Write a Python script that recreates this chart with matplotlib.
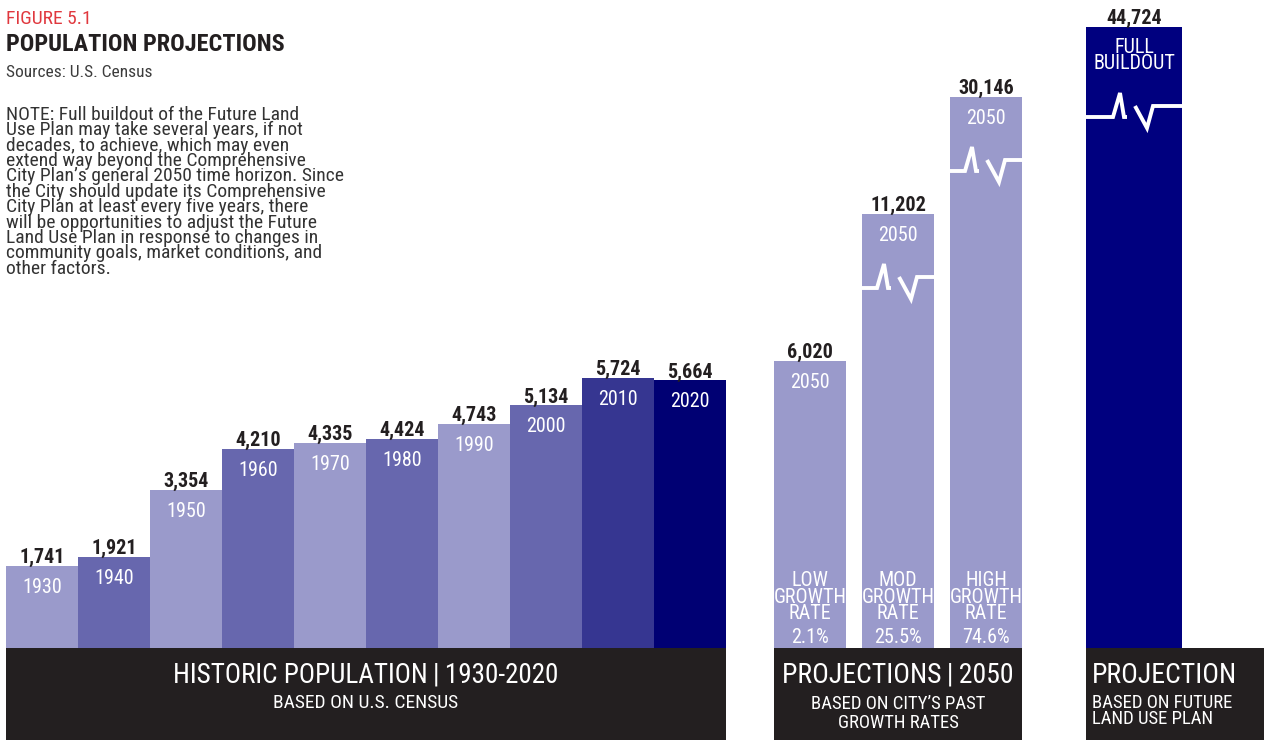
import numpy as np
import matplotlib
matplotlib.use("Agg")
import matplotlib.pyplot as plt
from matplotlib.patches import Rectangle

# ---------------- data ----------------
hist_years = ["1930", "1940", "1950", "1960", "1970", "1980", "1990", "2000", "2010", "2020"]
hist_values = [1741, 1921, 3354, 4210, 4335, 4424, 4743, 5134, 5724, 5664]

proj_year = "2050"
proj_names = ["LOW\nGROWTH\nRATE", "MOD\nGROWTH\nRATE", "HIGH\nGROWTH\nRATE"]
proj_rates = ["2.1%", "25.5%", "74.6%"]
proj_values = [6020, 11202, 30146]

buildout_label = "FULL\nBUILDOUT"
buildout_value = 44724

note_text = (
    "NOTE: Full buildout of the Future Land\n"
    "Use Plan may take several years, if not\n"
    "decades, to achieve, which may even\n"
    "extend way beyond the Comprehensive\n"
    "City Plan\u2019s general 2050 time horizon. Since\n"
    "the City should update its Comprehensive\n"
    "City Plan at least every five years, there\n"
    "will be opportunities to adjust the Future\n"
    "Land Use Plan in response to changes in\n"
    "community goals, market conditions, and\n"
    "other factors."
)

# broken (compressed) value axis: value knots -> pixel height knots
SCALE_VALUES = [0, 5800, 6020, 11202, 30146, 44724, 200000]
SCALE_PIXELS = [0, 274, 287, 434, 551, 621, 1200]

# ---------------- style ----------------
LIGHT = "#9a9acb"
MED = "#6767ae"
DARK = "#363691"
NAVY = "#000073"
FULLC = "#00007f"
BAND = "#231f20"
INK = "#231f20"
hist_colors = [LIGHT, MED, LIGHT, MED, LIGHT, MED, LIGHT, MED, DARK, NAVY]

FONT = ["Roboto Condensed", "Liberation Sans Narrow", "DejaVu Sans"]
plt.rcParams["font.family"] = FONT

W, H = 1264, 740
PT = 0.72  # points per pixel at dpi 100

fig = plt.figure(figsize=(W / 100, H / 100), dpi=100)

BASE = 648  # baseline pixel row
ax = fig.add_axes([0, (H - BASE) / H, 1, BASE / H])


def fwd(v):
    return np.interp(np.asarray(v, dtype=float), SCALE_VALUES, SCALE_PIXELS)


def inv(p):
    return np.interp(np.asarray(p, dtype=float), SCALE_PIXELS, SCALE_VALUES)


ax.set_yscale("function", functions=(fwd, inv))
ax.set_xlim(0, W)
ax.set_ylim(0, float(inv(BASE)))
ax.axis("off")

# overlay axes in pixel coordinates (origin top-left)
ov = fig.add_axes([0, 0, 1, 1], zorder=5)
ov.set_xlim(0, W)
ov.set_ylim(H, 0)
ov.axis("off")
ov.patch.set_alpha(0)

# ---------------- bars ----------------
hist_x = [42 + 72 * i for i in range(len(hist_values))]
proj_x = [810 + 88 * i for i in range(len(proj_values))]
full_x = 1134

ax.bar(hist_x, hist_values, width=72, color=hist_colors, linewidth=0)
ax.bar(proj_x, proj_values, width=72, color=LIGHT, linewidth=0)
ax.bar([full_x], [buildout_value], width=96, color=FULLC, linewidth=0)


def value_label(x, v):
    ax.annotate(f"{v:,}", xy=(x, v), xytext=(0, 3 * PT), textcoords="offset points",
                ha="center", va="baseline", fontsize=14.5, fontweight="bold", color=INK)


def inner_label(x, v, s, dy):
    ax.annotate(s, xy=(x, v), xytext=(0, -dy * PT), textcoords="offset points",
                ha="center", va="baseline", fontsize=14.5, color="white")


for x, v, yr in zip(hist_x, hist_values, hist_years):
    value_label(x, v)
    inner_label(x, v, yr, 27)

for x, v in zip(proj_x, proj_values):
    value_label(x, v)
    inner_label(x, v, proj_year, 27)

value_label(full_x, buildout_value)
ax.annotate(buildout_label, xy=(full_x, buildout_value), xytext=(0, -11 * PT),
            textcoords="offset points", ha="center", va="top", fontsize=14.5,
            color="white", linespacing=0.8, multialignment="center")

# growth-rate labels at the foot of projection bars
for x, name, rate in zip(proj_x, proj_names, proj_rates):
    ov.text(x, 619, name, ha="center", va="baseline", fontsize=14.5, color="white",
            linespacing=0.82, multialignment="center")
    ov.text(x, 643, rate, ha="center", va="baseline", fontsize=14.5, color="white")


# break symbols
def break_symbol(cx, width, top_px, d):
    y0 = top_px + d
    left, right = cx - width / 2, cx + width / 2
    kw = dict(color="white", lw=2.8, solid_joinstyle="miter", solid_capstyle="butt", zorder=6)
    ov.plot([left, cx - 21, cx - 14, cx - 10, cx - 7], [y0, y0, y0 - 24, y0, y0], **kw)
    ov.plot([cx + 1, cx + 13, cx + 19, right], [y0 - 11, y0 + 11, y0 - 11, y0 - 11], **kw)


for x, v in zip(proj_x[1:], proj_values[1:]):
    break_symbol(x, 72, BASE - float(fwd(v)), 74)
break_symbol(full_x, 96, BASE - float(fwd(buildout_value)), 90)

# ---------------- bottom bands ----------------
for x0, x1 in [(6, 726), (774, 1022), (1086, 1264)]:
    ov.add_patch(Rectangle((x0, BASE), x1 - x0, H - BASE, color=BAND, lw=0))

ov.text(366, 683, "HISTORIC POPULATION\u2009|\u20091930-2020", ha="center", va="baseline",
        fontsize=19.5, color="white")
ov.text(366, 708, "BASED ON U.S. CENSUS", ha="center", va="baseline", fontsize=14, color="white")

ov.text(898, 683, "PROJECTIONS\u2009|\u20092050", ha="center", va="baseline", fontsize=20,
        color="white")
ov.text(898, 728, "BASED ON CITY\u2019S PAST\nGROWTH RATES", ha="center", va="baseline",
        fontsize=13.5, color="white", linespacing=1.1, multialignment="center")

ov.text(1092, 683, "PROJECTION", ha="left", va="baseline", fontsize=20, color="white")
ov.text(1092, 724, "BASED ON FUTURE\nLAND USE PLAN", ha="left", va="baseline", fontsize=13.5,
        color="white", linespacing=0.84)

# ---------------- header ----------------
ov.text(6, 24, "FIGURE 5.1", ha="left", va="baseline", fontsize=14, color="#e0383e")
ov.text(6, 51, "POPULATION PROJECTIONS", ha="left", va="baseline", fontsize=17.5,
        fontweight="bold", color=INK)
ov.text(6, 77, "Sources: U.S. Census", ha="left", va="baseline", fontsize=12.5, color="#3c3c3c")
ov.text(6, 106, note_text, ha="left", va="top", fontsize=14.0, color="#333333",
        linespacing=0.81)

fig.savefig("out.png", dpi=100)
